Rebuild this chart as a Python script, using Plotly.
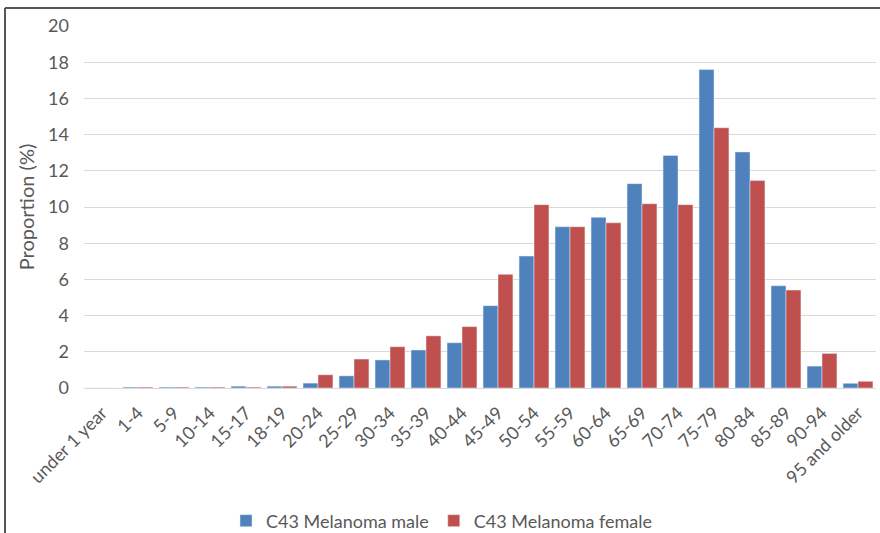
import plotly.graph_objects as go

categories = ["under 1 year", "1-4", "5-9", "10-14", "15-17", "18-19", "20-24", "25-29",
              "30-34", "35-39", "40-44", "45-49", "50-54", "55-59", "60-64", "65-69",
              "70-74", "75-79", "80-84", "85-89", "90-94", "95 and older"]
male = [0.0, 0.05, 0.05, 0.05, 0.1, 0.1, 0.27, 0.67, 1.55, 2.1, 2.5, 4.55, 7.29, 8.91,
        9.43, 11.29, 12.85, 17.59, 13.04, 5.65, 1.21, 0.26]
female = [0.0, 0.05, 0.05, 0.05, 0.05, 0.1, 0.73, 1.6, 2.28, 2.88, 3.39, 6.28, 10.13, 8.91,
          9.13, 10.18, 10.13, 14.38, 11.46, 5.41, 1.91, 0.37]
y_ticks = [0, 2, 4, 6, 8, 10, 12, 14, 16, 18, 20]

FONT = "Lato, 'Open Sans', sans-serif"
GREY = "#595959"

fig = go.Figure()
fig.add_trace(go.Bar(x=categories, y=male, name="C43 Melanoma male", marker_color="#4F81BD"))
fig.add_trace(go.Bar(x=categories, y=female, name="C43 Melanoma female", marker_color="#C0504D"))

W, H = 880, 533
L, R, T, B = 84, 4, 26, 145
pw, ph = W - L - R, H - T - B

def px_x(p):
    return (p - L) / pw

def px_y(p):
    return (H - B - p) / ph

fig.update_layout(
    width=W, height=H,
    margin=dict(l=L, r=R, t=T, b=B, autoexpand=False),
    paper_bgcolor="white", plot_bgcolor="white",
    barmode="group", bargap=0.17, bargroupgap=0,
    font=dict(family=FONT, color=GREY, size=16),
    legend=dict(orientation="h", x=px_x(442), xanchor="center", y=px_y(521), yanchor="middle",
                font=dict(size=18, color=GREY), itemwidth=30, traceorder="normal"),
    xaxis=dict(tickangle=-45, showgrid=False, showline=False, ticks="", automargin=False,
               ticklabelstandoff=10, tickfont=dict(size=18, color=GREY)),
    yaxis=dict(range=[0, 20], tickvals=y_ticks, showgrid=True, gridcolor="#D9D9D9", gridwidth=1,
               zeroline=True, zerolinecolor="#D9D9D9", zerolinewidth=1, showline=False,
               ticks="", ticklabelstandoff=14, tickfont=dict(size=18, color=GREY), automargin=False,
               title=dict(text="Proportion (%)", font=dict(size=20, color=GREY), standoff=8)),
    shapes=[
        dict(type="line", xref="paper", yref="paper", x0=px_x(5), x1=px_x(880), y0=px_y(8), y1=px_y(8),
             line=dict(color="#555555", width=2)),
        dict(type="line", xref="paper", yref="paper", x0=px_x(5), x1=px_x(5), y0=px_y(8), y1=px_y(533),
             line=dict(color="#555555", width=2)),
    ],
)

fig.write_html("out.html", config={"displayModeBar": False},
               post_script="document.body.style.margin='0';document.body.style.overflow='hidden';")
